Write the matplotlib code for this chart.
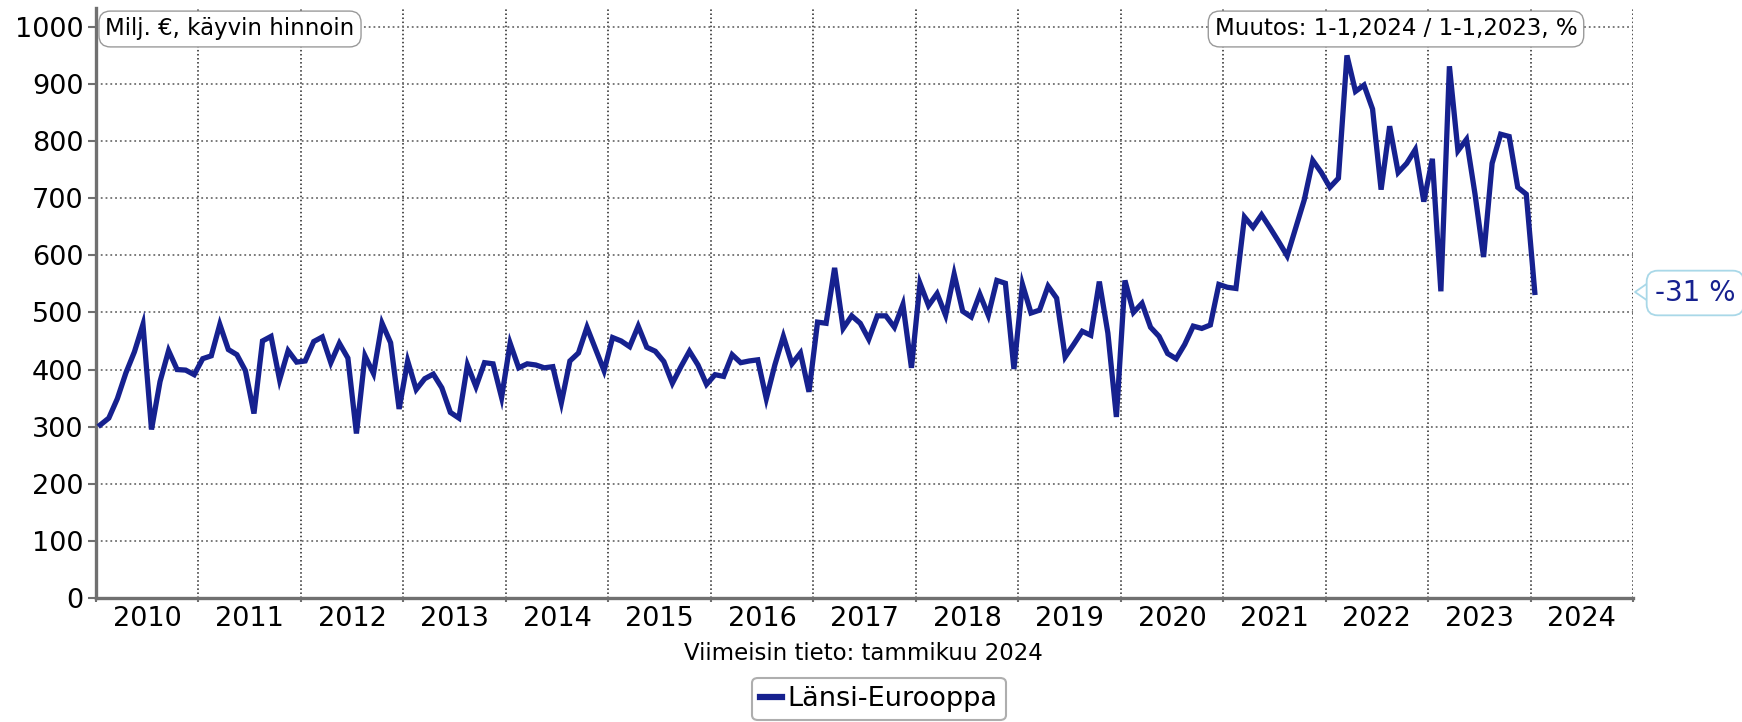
import matplotlib
matplotlib.use('Agg')
import matplotlib.pyplot as plt
import numpy as np
from matplotlib.lines import Line2D

plt.rcParams['font.family'] = ['DejaVu Sans']

# Kuukausiarvot, milj. €, käyvin hinnoin (tammikuu 2010 - tammikuu 2024)
v2010 = [303, 315, 349, 394, 431, 479, 295, 379, 433, 400, 399, 391]
v2011 = [419, 424, 479, 435, 426, 398, 323, 450, 458, 382, 433, 413]
v2012 = [415, 449, 457, 412, 446, 420, 288, 424, 393, 481, 447, 331]
v2013 = [415, 365, 384, 392, 368, 325, 315, 408, 370, 412, 410, 351]
v2014 = [446, 403, 410, 408, 403, 405, 342, 415, 429, 474, 436, 398]
v2015 = [456, 450, 440, 476, 439, 432, 414, 376, 405, 432, 408, 374]
v2016 = [391, 388, 426, 412, 415, 417, 349, 408, 458, 410, 429, 361]
v2017 = [483, 481, 578, 472, 494, 481, 453, 494, 494, 474, 514, 403]
v2018 = [551, 512, 533, 495, 567, 502, 492, 532, 495, 556, 551, 401]
v2019 = [549, 499, 504, 546, 525, 422, 444, 467, 460, 554, 464, 317]
v2020 = [556, 500, 516, 474, 458, 428, 419, 444, 476, 472, 478, 549]
v2021 = [544, 542, 667, 649, 671, 648, 624, 599, 648, 697, 766, 745]
v2022 = [719, 735, 950, 887, 898, 856, 715, 826, 745, 761, 785, 694]
v2023 = [769, 537, 931, 783, 803, 707, 597, 761, 812, 808, 719, 707]
v2024 = [535]

years = list(range(2010, 2025))
series_name = 'Länsi-Eurooppa'
unit_text = 'Milj. €, käyvin hinnoin'
change_text = 'Muutos: 1-1,2024 / 1-1,2023, %'
change_value = '-31 %'
footer_text = 'Viimeisin tieto: tammikuu 2024'

values = (v2010 + v2011 + v2012 + v2013 + v2014 + v2015 + v2016 + v2017
          + v2018 + v2019 + v2020 + v2021 + v2022 + v2023 + v2024)
months = np.arange(len(values))

W, H = 1742, 722
LINE = '#16218f'
GRID = '#707070'

fig = plt.figure(figsize=(W / 100, H / 100), dpi=100)
ax = fig.add_axes([96 / W, 1 - 598 / H, (1633 - 96) / W, (598 - 8) / H])

ax.plot(months, values, color=LINE, lw=3.8, solid_joinstyle='miter', zorder=3)

ax.set_xlim(-0.5, 12 * len(years) - 0.5)
ax.set_ylim(0, 1033)

# vuosirajat ja vuosien nimet keskellä
ax.set_xticks(np.arange(-0.5, 12 * len(years), 12))
ax.set_xticks(np.arange(5.5, 12 * len(years), 12), minor=True)
ax.set_xticklabels([])
ax.set_xticklabels([str(y) for y in years], minor=True)
ax.tick_params(axis='x', which='major', length=3, width=1.5, color=GRID)
ax.tick_params(axis='x', which='minor', length=0, labelsize=19.5, pad=6)

ax.set_yticks(np.arange(0, 1001, 100))
ax.tick_params(axis='y', length=6, width=1.5, color=GRID, labelsize=19.5, pad=3)

ax.grid(axis='x', which='major', color='#222222', ls=':', lw=1.1)
ax.grid(axis='y', color=GRID, ls=':', lw=1.3)

for s in ['top', 'right']:
    ax.spines[s].set_visible(False)
for s in ['left', 'bottom']:
    ax.spines[s].set_color(GRID)
    ax.spines[s].set_linewidth(2.4)

box = dict(boxstyle='round,pad=0.28,rounding_size=0.5', fc='white', ec='#9a9a9a', lw=1)
fig.text(230 / W, 1 - 29 / H, unit_text, fontsize=16.5, ha='center', va='center',
         bbox=box, zorder=5)
fig.text(1396 / W, 1 - 29 / H, change_text, fontsize=16.5, ha='center', va='center',
         bbox=box, zorder=5)

# muutoksen puhekupla oikealla
fig.text(1655 / W, 1 - 293 / H, change_value, fontsize=20, color=LINE,
         ha='left', va='center',
         bbox=dict(boxstyle='round,pad=0.3,rounding_size=0.4', fc='white',
                   ec='#a9d8e8', lw=1.3))
fig.add_artist(Line2D([1648 / W, 1635 / W, 1648 / W],
                      [1 - 283 / H, 1 - 292 / H, 1 - 301 / H],
                      color='#a9d8e8', lw=1.3, transform=fig.transFigure))

fig.text(863 / W, 1 - 653 / H, footer_text, fontsize=16.5, ha='center', va='center')

leg = fig.legend([Line2D([], [], color=LINE, lw=4.5)], [series_name],
                 loc='upper center', bbox_to_anchor=(879 / W, 1 - 678 / H),
                 fontsize=19.5, handlelength=0.8, handletextpad=0.2,
                 borderpad=0.3, borderaxespad=0, frameon=True, fancybox=True)
leg.get_frame().set_edgecolor('#9a9a9a')
leg.get_frame().set_linewidth(1.5)

fig.savefig('out.png', dpi=100)
